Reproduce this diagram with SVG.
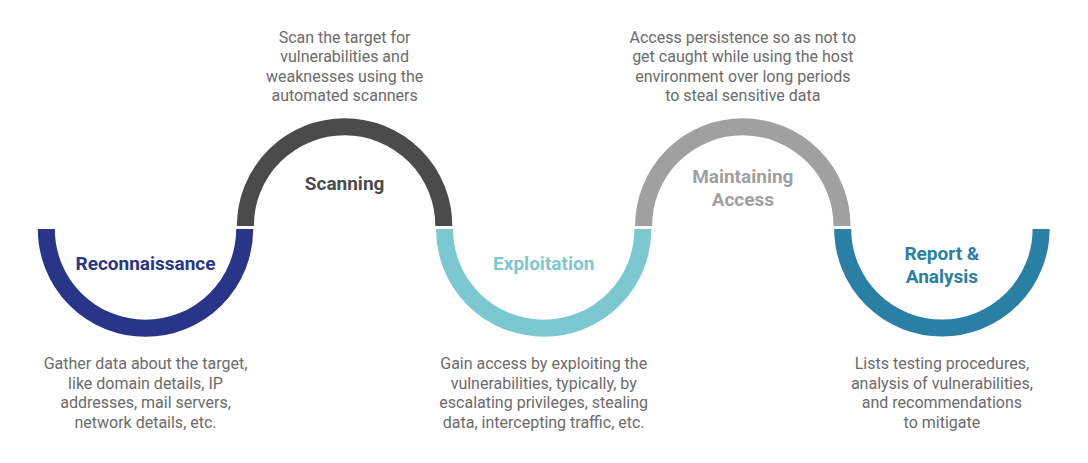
<svg xmlns="http://www.w3.org/2000/svg" width="1088" height="463" viewBox="0 0 1088 463">
<style>
.arc{fill:none;stroke-width:17;stroke-linecap:butt}
.title{font-family:Roboto,"Liberation Sans",sans-serif;font-weight:700;font-size:19px;text-anchor:middle}
.desc{font-family:Roboto,"Liberation Sans",sans-serif;font-size:16px;fill:#6b6b6b;text-anchor:middle}
</style>
<rect width="1088" height="463" fill="#ffffff"/>
<g id="reconnaissance">
<path class="arc" stroke="#293589" d="M46.3,229 A99.2,99.2 0 0 0 244.7,229"/>
<text class="title" fill="#293589" x="145.5" y="270">Reconnaissance</text>
<text class="desc" x="145.5" y="369">Gather data about the target,</text>
<text class="desc" x="145.5" y="388.5">like domain details, IP</text>
<text class="desc" x="145.5" y="408">addresses, mail servers,</text>
<text class="desc" x="145.5" y="427.5">network details, etc.</text>
</g>
<g id="scanning">
<path class="arc" stroke="#4b4b4b" d="M245.4,226 A99.2,99.2 0 0 1 443.8,226"/>
<text class="title" fill="#4b4b4b" x="344.6" y="190">Scanning</text>
<text class="desc" x="344.6" y="42.5">Scan the target for</text>
<text class="desc" x="344.6" y="62">vulnerabilities and</text>
<text class="desc" x="344.6" y="81.5">weaknesses using the</text>
<text class="desc" x="344.6" y="101">automated scanners</text>
</g>
<g id="exploitation">
<path class="arc" stroke="#7cc8d0" d="M444.5,229 A99.2,99.2 0 0 0 642.9,229"/>
<text class="title" fill="#7cc8d0" x="543.7" y="270">Exploitation</text>
<text class="desc" x="543.7" y="369">Gain access by exploiting the</text>
<text class="desc" x="543.7" y="388.5">vulnerabilities, typically, by</text>
<text class="desc" x="543.7" y="408">escalating privileges, stealing</text>
<text class="desc" x="543.7" y="427.5">data, intercepting traffic, etc.</text>
</g>
<g id="maintaining-access">
<path class="arc" stroke="#a0a0a0" d="M643.6,226 A99.2,99.2 0 0 1 842,226"/>
<text class="title" fill="#a0a0a0" x="742.8" y="183">Maintaining</text>
<text class="title" fill="#a0a0a0" x="742.8" y="206">Access</text>
<text class="desc" x="742.8" y="42.5">Access persistence so as not to</text>
<text class="desc" x="742.8" y="62">get caught while using the host</text>
<text class="desc" x="742.8" y="81.5">environment over long periods</text>
<text class="desc" x="742.8" y="101">to steal sensitive data</text>
</g>
<g id="report-analysis">
<path class="arc" stroke="#2a7fa5" d="M842.7,229 A99.2,99.2 0 0 0 1041.1,229"/>
<text class="title" fill="#2a7fa5" x="941.9" y="260">Report &amp;</text>
<text class="title" fill="#2a7fa5" x="941.9" y="283">Analysis</text>
<text class="desc" x="941.9" y="369">Lists testing procedures,</text>
<text class="desc" x="941.9" y="388.5">analysis of vulnerabilities,</text>
<text class="desc" x="941.9" y="408">and recommendations</text>
<text class="desc" x="941.9" y="427.5">to mitigate</text>
</g>
<g id="connectors"></g>
</svg>
